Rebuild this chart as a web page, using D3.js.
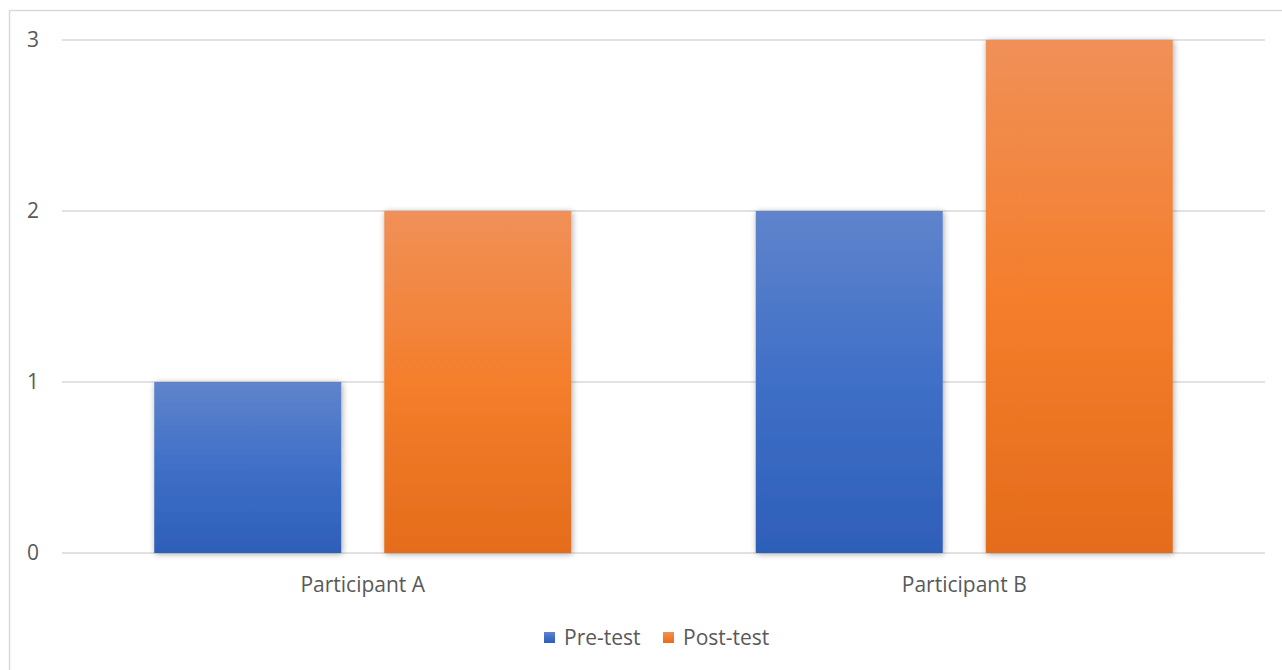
<!DOCTYPE html>
<html>
<head>
<meta charset="utf-8">
<script src="https://cdn.jsdelivr.net/npm/d3@7"></script>
<style>
  html, body { margin: 0; padding: 0; background: #fff; }
  svg { display: block; }
</style>
</head>
<body>
<script>
const categories = ["Participant A", "Participant B"];
const seriesNames = ["Pre-test", "Post-test"];
const preTest = [1, 2];
const postTest = [2, 3];
const yTicks = [0, 1, 2, 3];

const W = 1282, H = 670;
const margin = { left: 62, right: 17, top: 40, bottom: 117 };

const svg = d3.select("body").append("svg").attr("width", W).attr("height", H);

// chart frame
svg.append("rect")
  .attr("x", 9.5).attr("y", 10.5)
  .attr("width", W + 20).attr("height", H + 20)
  .attr("fill", "#fff").attr("stroke", "#d9d9d9").attr("stroke-width", 1.5);

const defs = svg.append("defs");
const gradBlue = defs.append("linearGradient").attr("id", "gBlue").attr("x1", 0).attr("y1", 0).attr("x2", 0).attr("y2", 1);
gradBlue.append("stop").attr("offset", "0%").attr("stop-color", "#5f84cc");
gradBlue.append("stop").attr("offset", "50%").attr("stop-color", "#3f6fc7");
gradBlue.append("stop").attr("offset", "100%").attr("stop-color", "#2e5fb8");
const gradOrange = defs.append("linearGradient").attr("id", "gOrange").attr("x1", 0).attr("y1", 0).attr("x2", 0).attr("y2", 1);
gradOrange.append("stop").attr("offset", "0%").attr("stop-color", "#f09058");
gradOrange.append("stop").attr("offset", "50%").attr("stop-color", "#f47e2c");
gradOrange.append("stop").attr("offset", "100%").attr("stop-color", "#e46c1b");

const shadow = defs.append("filter").attr("id", "shadow")
  .attr("x", "-10%").attr("y", "-5%").attr("width", "120%").attr("height", "110%");
shadow.append("feGaussianBlur").attr("in", "SourceAlpha").attr("stdDeviation", 3).attr("result", "b");
shadow.append("feOffset").attr("in", "b").attr("dx", 1).attr("dy", 1).attr("result", "o");
shadow.append("feComponentTransfer").attr("in", "o").attr("result", "s")
  .append("feFuncA").attr("type", "linear").attr("slope", 0.35);
const merge = shadow.append("feMerge");
merge.append("feMergeNode").attr("in", "s");
merge.append("feMergeNode").attr("in", "SourceGraphic");

const x0 = d3.scaleBand().domain(categories).range([margin.left, W - margin.right]).paddingInner(0).paddingOuter(0);
const x1 = d3.scaleBand().domain(seriesNames).range([0, x0.bandwidth()]).paddingInner(0.187).paddingOuter(0.401);
const y = d3.scaleLinear().domain([0, 3]).range([H - margin.bottom, margin.top]);

const font = "'Open Sans', 'Noto Sans', sans-serif";
const fontSize = 21;

// gridlines
svg.append("g").selectAll("line").data(yTicks).join("line")
  .attr("x1", margin.left).attr("x2", W - margin.right)
  .attr("y1", d => y(d)).attr("y2", d => y(d))
  .attr("stroke", "#d9d9d9").attr("stroke-width", 1.5);

// y tick labels
svg.append("g").selectAll("text").data(yTicks).join("text")
  .attr("x", 39).attr("y", d => y(d)).attr("dy", "0.35em")
  .attr("text-anchor", "end")
  .attr("font-family", font).attr("font-size", fontSize).attr("fill", "#595959")
  .text(d => d);

const colors = { "Pre-test": "url(#gBlue)", "Post-test": "url(#gOrange)" };
const data = categories.map((c, i) => ({ cat: c, values: [
  { key: "Pre-test", v: preTest[i] }, { key: "Post-test", v: postTest[i] } ] }));

svg.append("g").selectAll("g").data(data).join("g")
  .attr("transform", d => `translate(${x0(d.cat)},0)`)
  .selectAll("rect").data(d => d.values).join("rect")
  .attr("x", d => x1(d.key)).attr("width", x1.bandwidth())
  .attr("y", d => y(d.v)).attr("height", d => y(0) - y(d.v))
  .attr("fill", d => colors[d.key]).attr("filter", "url(#shadow)");

// x labels
svg.append("g").selectAll("text").data(categories).join("text")
  .attr("x", d => x0(d) + x0.bandwidth() / 2).attr("y", 585).attr("dy", "0.35em")
  .attr("text-anchor", "middle")
  .attr("font-family", font).attr("font-size", fontSize).attr("fill", "#595959")
  .text(d => d);

// legend
const legendItems = [
  { name: "Pre-test", fill: "url(#gBlue)", x: 544 },
  { name: "Post-test", fill: "url(#gOrange)", x: 663 }
];
const lg = svg.append("g").selectAll("g").data(legendItems).join("g")
  .attr("transform", d => `translate(${d.x},632)`);
lg.append("rect").attr("width", 11).attr("height", 11).attr("fill", d => d.fill);
lg.append("text").attr("x", 20).attr("y", 5.5).attr("dy", "0.35em")
  .attr("font-family", font).attr("font-size", fontSize).attr("fill", "#595959")
  .text(d => d.name);
</script>
</body>
</html>
